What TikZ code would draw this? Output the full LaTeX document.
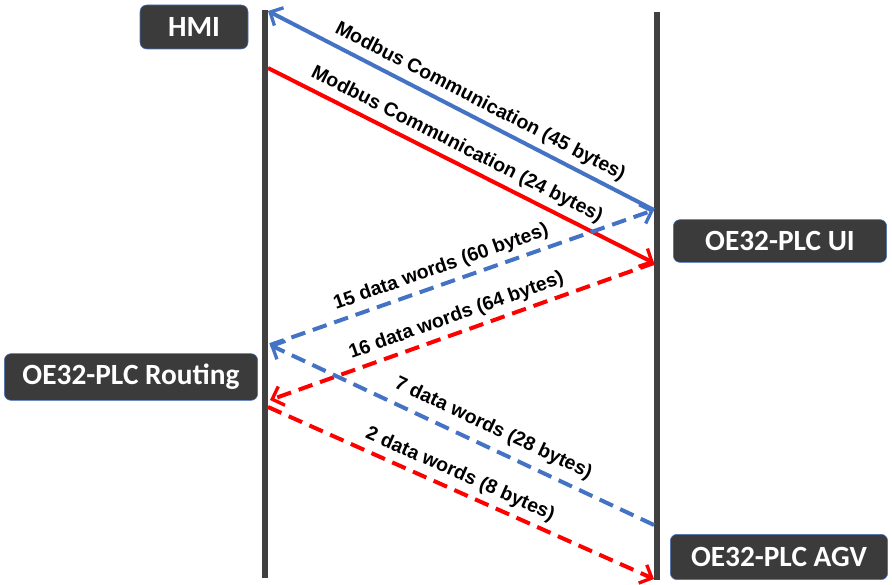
\documentclass[tikz,border=0pt]{standalone}
\usepackage{fontspec}
\setmainfont{Liberation Sans}
\newfontfamily\boxfont{Carlito}
\usetikzlibrary{arrows.meta}
\definecolor{lifegray}{HTML}{404040}
\definecolor{boxgray}{HTML}{3B3B3B}
\definecolor{msgblue}{HTML}{4472C4}
\definecolor{msgred}{HTML}{FF0000}
\tikzset{
  actor/.style={draw=msgblue, fill=boxgray, rounded corners=5pt, text=white, font=\boxfont\bfseries\fontsize{22}{24}\selectfont, inner sep=0pt},
  lifeline/.style={line width=4.5pt, lifegray},
  msg/.style={line width=3pt, -{Straight Barb[length=7.5pt,width=15pt,line width=2.5pt]}},
  msglabel/.style={font=\bfseries\fontsize{14.6}{16}\selectfont, sloped, above, inner sep=4pt},
  dashedmsg/.style={msg, dash pattern=on 11pt off 6pt}
}
\begin{document}
\begin{tikzpicture}[x=0.75pt,y=-0.75pt]
    \useasboundingbox (0,0) rectangle (892,585);
    % lifelines
    \coordinate (left-top) at (265,10);
    \coordinate (left-bot) at (265,578);
    \coordinate (right-top) at (657,12);
    \coordinate (right-bot) at (657,580);
    \draw[lifeline] (left-top) -- (left-bot);
    \draw[lifeline] (right-top) -- (right-bot);
    % stations
    \node[actor, minimum width=81pt, minimum height=33pt] (hmi) at (194,27) {HMI};
    \node[actor, minimum width=160pt, minimum height=32pt] (ui) at (780,241) {OE32-PLC UI};
    \node[actor, minimum width=190pt, minimum height=35pt] (routing) at (131,377) {OE32-PLC Routing};
    \node[actor, minimum width=163pt, minimum height=34pt] (agv) at (779,557) {OE32-PLC AGV};
    % message ends
    \coordinate (hmi-in) at (268,11);
    \coordinate (hmi-out) at (268,68);
    \coordinate (ui-in) at (654,210);
    \coordinate (ui-out) at (654,263);
    \coordinate (rt-in) at (270,345);
    \coordinate (rt-out) at (270,400);
    \coordinate (rt-send) at (268,407);
    \coordinate (agv-out) at (654,525);
    \coordinate (agv-in) at (654,579);
    \draw[msg, msgblue] (ui-in) -- node[msglabel, pos=0.47, text=black] {Modbus Communication (45 bytes)} (hmi-in); % to HMI
    \draw[msg, msgred] (hmi-out) -- node[msglabel, pos=0.47, text=black] {Modbus Communication (24 bytes)} (ui-out); % from HMI
    \draw[dashedmsg, msgblue] (rt-in) -- node[msglabel, pos=0.46, text=black] {15 data words (60 bytes)} (ui-in); % to UI
    \draw[dashedmsg, msgred] (ui-out) -- node[msglabel, pos=0.5, text=black] {16 data words (64 bytes)} (rt-out); % from UI
    \draw[dashedmsg, msgblue] (agv-out) -- node[msglabel, pos=0.44, text=black, inner sep=6pt] {7 data words (28 bytes)} (rt-in); % from AGV
    \draw[dashedmsg, msgred] (rt-send) -- node[msglabel, pos=0.48, text=black] {2 data words (8 bytes)} (agv-in); % to AGV
  \end{tikzpicture}
\end{document}
